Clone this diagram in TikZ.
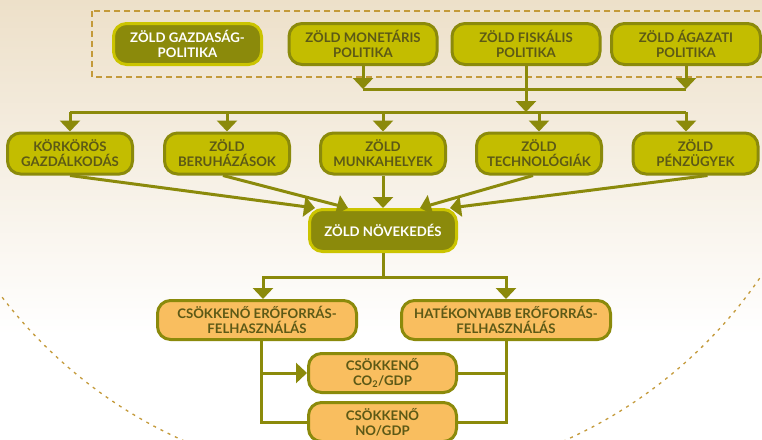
\documentclass[tikz,border=0pt]{standalone}
\usepackage{fontspec}
\setmainfont{Lato}
\usepackage{tikz}
\usetikzlibrary{arrows.meta,calc,positioning}
\definecolor{darkolive}{HTML}{8B8A0B}
\definecolor{brightolive}{HTML}{CBC400}
\definecolor{lightolive}{HTML}{C3BD00}
\definecolor{textolive}{HTML}{5C5916}
\definecolor{peach}{HTML}{F9BE5F}
\definecolor{dashgold}{HTML}{C49A3A}
\definecolor{bgtop}{HTML}{EDE0C9}

\tikzset{
  box/.style={rounded corners=13pt, line width=3pt, align=center, inner sep=1pt,
    font=\bfseries\fontsize{13.2}{15}\selectfont, minimum height=41pt},
  darkbox/.style={box, fill=darkolive, draw=brightolive, text=white},
  lightbox/.style={box, fill=lightolive, draw=darkolive, text=textolive},
  peachbox/.style={box, fill=peach, draw=darkolive, text=textolive},
  conn/.style={draw=darkolive, line width=3pt},
  arr/.style={-{Triangle[width=20pt,length=11pt]}}
}

\begin{document}
\begin{tikzpicture}[x=1pt,y=-1pt]
\useasboundingbox (0,0) rectangle (762,439);
\clip (0,0) rectangle (762,439);
\shade[top color=bgtop, bottom color=white] (0,0) rectangle (762,335);
\fill[white] (0,335) rectangle (762,439);

\draw[dashgold, line width=1.5pt, dash pattern=on 6pt off 4pt] (92,11) rectangle (775,77);
\draw[dashgold, line width=1.3pt, dash pattern=on 3pt off 5pt] (374,13) circle[radius=468pt];

\node[darkbox, minimum width=148pt] (gpol) at (187.5,44) {ZÖLD GAZDASÁG-\\POLITIKA};
\node[lightbox, minimum width=148pt] (mpol) at (363,44) {ZÖLD MONETÁRIS\\POLITIKA};
\node[lightbox, minimum width=148pt] (fpol) at (526,44) {ZÖLD FISKÁLIS\\POLITIKA};
\node[lightbox, minimum width=149pt] (apol) at (686,44) {ZÖLD ÁGAZATI\\POLITIKA};

\node[lightbox, minimum width=125pt] (korf) at (70,153.5) {KÖRKÖRÖS\\GAZDÁLKODÁS};
\node[lightbox, minimum width=125pt] (beru) at (227,153.5) {ZÖLD\\BERUHÁZÁSOK};
\node[lightbox, minimum width=125pt] (munk) at (383,153.5) {ZÖLD\\MUNKAHELYEK};
\node[lightbox, minimum width=125pt] (tech) at (539,153.5) {ZÖLD\\TECHNOLÓGIÁK};
\node[lightbox, minimum width=125pt] (penz) at (695.5,153.5) {ZÖLD\\PÉNZÜGYEK};

\node[darkbox, minimum width=147pt, minimum height=42pt] (nov) at (383,230.5) {ZÖLD NÖVEKEDÉS};

\node[peachbox, minimum width=199pt, minimum height=39pt] (csokk) at (257,320) {CSÖKKENŐ ERŐFORRÁS-\\FELHASZNÁLÁS};
\node[peachbox, minimum width=209pt, minimum height=39pt] (hatek) at (506,320) {HATÉKONYABB ERŐFORRÁS-\\FELHASZNÁLÁS};
\node[peachbox, minimum width=148pt, minimum height=39pt] (co2) at (382.5,373) {CSÖKKENŐ\\CO\textsubscript{2}/GDP};
\node[peachbox, minimum width=148pt, minimum height=39pt] (no) at (382.5,422) {CSÖKKENŐ\\NO/GDP};

\coordinate (top1) at (0,89);
\coordinate (top2) at (0,112);
\coordinate (split) at (383,277);

\draw[conn] (mpol |- top1) -- (apol |- top1);
\draw[conn,arr] (mpol.south) -- (mpol |- top1);
\draw[conn,arr] (apol.south) -- (apol |- top1);
\draw[conn,arr] (fpol.south) -- (fpol |- top2);

\draw[conn] (korf |- top2) -- (apol |- top2);
\draw[conn,arr] (korf |- top2) -- (korf.north);
\draw[conn,arr] (beru |- top2) -- (beru.north);
\draw[conn,arr] (munk |- top2) -- (munk.north);
\draw[conn,arr] (tech |- top2) -- (tech.north);
\draw[conn,arr] (apol |- top2) -- (apol |- penz.north);

\draw[conn,arr] (korf.south) -- ($(nov.north)+(-68,0)$);
\draw[conn,arr] ($(beru.south)+(-4,0)$) -- ($(nov.north)+(-35,0)$);
\draw[conn,arr] (munk.south) -- (nov.north);
\draw[conn,arr] ($(tech.south)+(-6,0)$) -- ($(nov.north)+(37,0)$);
\draw[conn,arr] ($(penz.south)+(12,0)$) -- ($(nov.north)+(67,0)$);

\draw[conn] (nov.south) -- (split);
\draw[conn,arr] (split) -| ($(csokk.north)+(6,0)$);
\draw[conn,arr] (split) -| (hatek.north);

\draw[conn] ($(csokk.south)+(4,0)$) |- (no.west);
\draw[conn,arr] ($(csokk.south |- co2.west)+(4,0)$) -- (co2.west);
\draw[conn] (hatek.south) |- (no.east);
\draw[conn] (hatek.south |- co2.east) -- (co2.east);
\end{tikzpicture}
\end{document}
